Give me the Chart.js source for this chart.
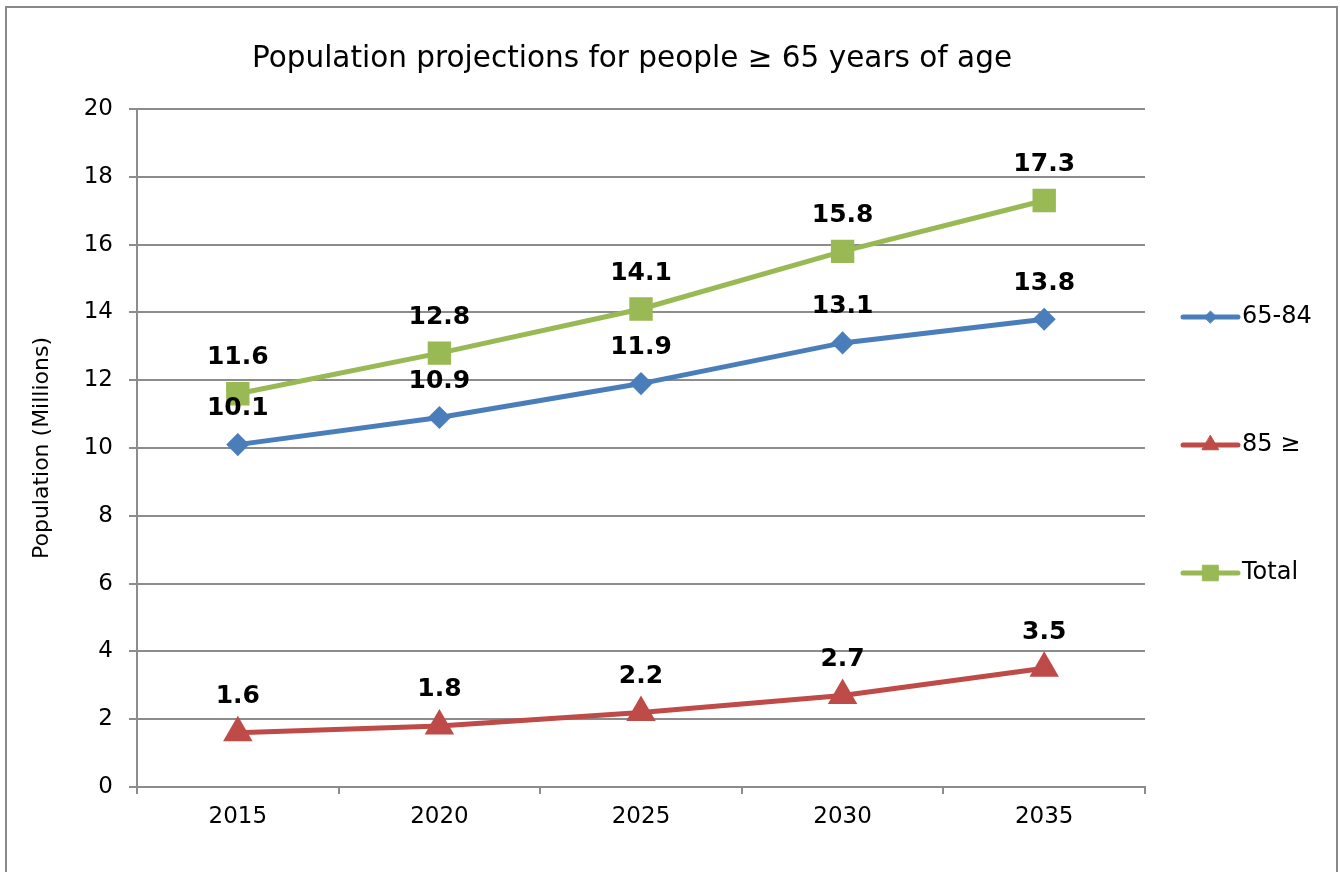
<!DOCTYPE html>
<html>
<head>
<meta charset="utf-8">
<title>Population projections</title>
<script src="https://cdn.jsdelivr.net/npm/chart.js@4.4.1/dist/chart.umd.min.js"></script>
<style>
    html, body { margin: 0; padding: 0; background: #ffffff; }
    #wrap { position: relative; width: 1340px; height: 872px; }
</style>
</head>
<body>
<div id="wrap"><canvas id="popChart"></canvas></div>
<script>
// === DATOS ===
const years = ["2015", "2020", "2025", "2030", "2035"];
const age65to84 = [10.1, 10.9, 11.9, 13.1, 13.8];
const age85plus = [1.6, 1.8, 2.2, 2.7, 3.5];
const ageTotal = [11.6, 12.8, 14.1, 15.8, 17.3];
const seriesNames = ["65-84", "85 \u2265", "Total"];
const yTicks = [0, 2, 4, 6, 8, 10, 12, 14, 16, 18, 20];

const FONT = "'DejaVu Sans', Verdana, sans-serif";
const GRID = "#8c8c8c";

Chart.defaults.font.family = FONT;
Chart.defaults.color = "#000000";

// === ETIQUETAS DE DATOS (valor encima de cada punto) ===
const dataLabelsPlugin = {
    id: "dataLabels",
    afterDatasetsDraw(chart) {
        const ctx = chart.ctx;
        ctx.save();
        ctx.font = "bold 25px " + FONT;
        ctx.fillStyle = "#000000";
        ctx.textAlign = "center";
        ctx.textBaseline = "middle";
        chart.data.datasets.forEach((ds, i) => {
            const meta = chart.getDatasetMeta(i);
            meta.data.forEach((pt, j) => {
                ctx.fillText(Number(ds.data[j]).toFixed(1), pt.x, pt.y - 36);
            });
        });
        ctx.restore();
    }
};

// === LEYENDA A LA DERECHA (linea + marcador, estilo Excel) ===
const sideLegendPlugin = {
    id: "sideLegend",
    afterDraw(chart) {
        const ctx = chart.ctx;
        const area = chart.chartArea;
        const midY = (area.top + area.bottom) / 2;
        const gap = 128;
        const x0 = 1183, x1 = 1238;
        ctx.save();
        chart.data.datasets.forEach((ds, i) => {
            const y = midY + (i - 1) * gap - 3;
            ctx.strokeStyle = ds.borderColor;
            ctx.lineWidth = 5;
            ctx.lineCap = "round";
            ctx.beginPath();
            ctx.moveTo(x0, y);
            ctx.lineTo(x1, y);
            ctx.stroke();
            ctx.fillStyle = ds.backgroundColor;
            ctx.strokeStyle = ds.borderColor;
            ctx.lineWidth = 1;
            Chart.helpers.drawPoint(ctx, {
                pointStyle: ds.pointStyle,
                radius: ds.legendRadius,
                rotation: 0,
                borderWidth: 1
            }, (x0 + x1) / 2, y);
            ctx.fillStyle = "#000000";
            ctx.font = "24px " + FONT;
            ctx.textAlign = "left";
            ctx.textBaseline = "middle";
            ctx.fillText(ds.label, x1 + 4, y);
        });
        ctx.restore();
    }
};

// === MARCO EXTERIOR ===
const framePlugin = {
    id: "frame",
    beforeDraw(chart) {
        const ctx = chart.ctx;
        ctx.save();
        ctx.fillStyle = "#ffffff";
        ctx.fillRect(0, 0, chart.width, chart.height);
        ctx.strokeStyle = "#898989";
        ctx.lineWidth = 2;
        ctx.strokeRect(6, 7, 1331, 900);
        ctx.restore();
    }
};

function renderChart() {
    const ctx = document.getElementById("popChart").getContext("2d");

    new Chart(ctx, {
        type: "line",
        data: {
            labels: years,
            datasets: [
                {
                    label: seriesNames[0],
                    data: age65to84,
                    borderColor: "#4a7ebb",
                    backgroundColor: "#4a7ebb",
                    pointStyle: "rectRot",
                    pointRadius: 8,
                    legendRadius: 6,
                    borderWidth: 5
                },
                {
                    label: seriesNames[1],
                    data: age85plus,
                    borderColor: "#be4b48",
                    backgroundColor: "#be4b48",
                    pointStyle: "triangle",
                    pointRadius: 12,
                    legendRadius: 9.5,
                    borderWidth: 5
                },
                {
                    label: seriesNames[2],
                    data: ageTotal,
                    borderColor: "#98b954",
                    backgroundColor: "#98b954",
                    pointStyle: "rect",
                    pointRadius: 13,
                    legendRadius: 11,
                    borderWidth: 5
                }
            ]
        },
        options: {
            responsive: true,
            maintainAspectRatio: false,
            animation: false,
            layout: { padding: { left: 0, right: 76, top: 0, bottom: 0 } },
            elements: {
                line: { tension: 0 },
                point: { borderWidth: 1, hoverRadius: 8 }
            },
            plugins: {
                legend: { display: false },
                tooltip: { enabled: false },
                title: {
                    display: true,
                    text: "Population projections for people \u2265 65 years of age",
                    font: { size: 29.5, weight: "normal" },
                    color: "#000000",
                    padding: { top: 42, bottom: 31.6 }
                }
            },
            scales: {
                x: {
                    offset: true,
                    grid: {
                        offset: true,
                        drawOnChartArea: false,
                        tickLength: 7,
                        color: GRID,
                        lineWidth: 2
                    },
                    border: { display: true, color: GRID, width: 2 },
                    ticks: { font: { size: 23 }, padding: 9, color: "#000000" },
                    afterFit: (s) => { s.height = 85; }
                },
                y: {
                    min: 0,
                    max: 20,
                    afterBuildTicks: (s) => { s.ticks = yTicks.map(v => ({ value: v })); },
                    grid: { color: GRID, lineWidth: 2, tickLength: 8 },
                    border: { display: true, color: GRID, width: 2 },
                    ticks: { font: { size: 23 }, padding: 16, color: "#000000" },
                    title: {
                        display: true,
                        text: "Population (Millions)",
                        font: { size: 22 },
                        color: "#000000",
                        padding: { top: 29, bottom: 0 }
                    },
                    afterFit: (s) => { s.width = 137; }
                },
                // espacio reservado para la leyenda lateral
                legendSpace: {
                    type: "linear",
                    position: "right",
                    display: true,
                    grid: { display: false },
                    border: { display: false },
                    ticks: { display: false },
                    afterFit: (s) => { s.width = 1340 - 76 - 1145; }
                }
            }
        },
        plugins: [framePlugin, dataLabelsPlugin, sideLegendPlugin]
    });
}

document.addEventListener("DOMContentLoaded", renderChart);
</script>
</body>
</html>
